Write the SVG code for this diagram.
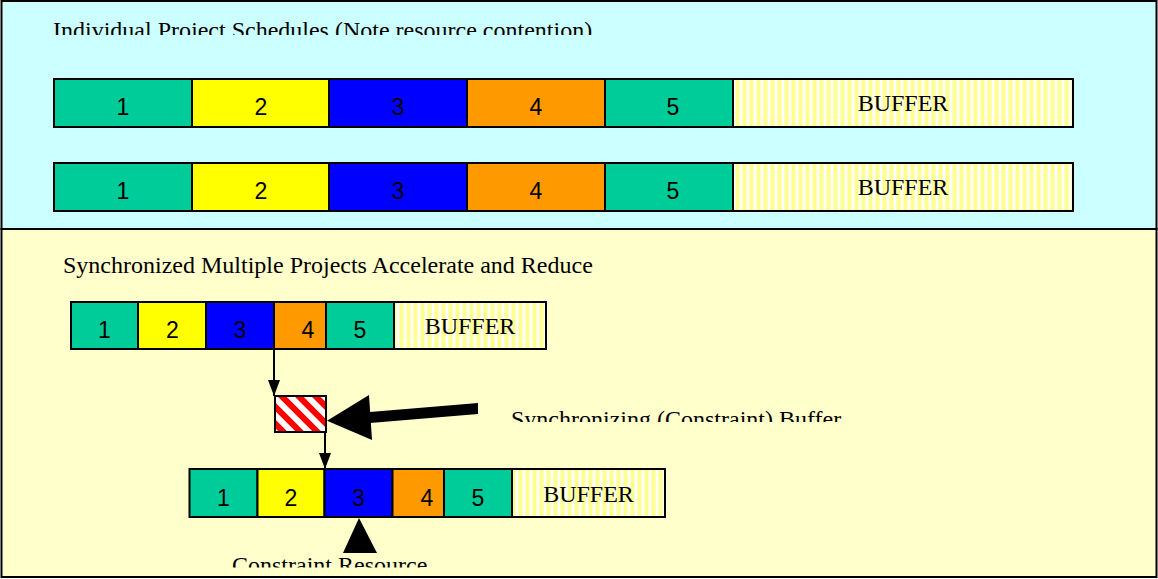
<svg xmlns="http://www.w3.org/2000/svg" width="1158" height="579" viewBox="0 0 1158 579">
<style>
.t{font-family:"Liberation Serif","Times New Roman",serif;font-size:24px;fill:#000}
.n{font-family:"Liberation Sans",Arial,sans-serif;font-size:23px;fill:#000;text-anchor:middle}
.b{font-family:"Liberation Serif","Times New Roman",serif;font-size:24px;fill:#000;text-anchor:middle}
.seg{stroke:#000;stroke-width:2}
.c1{fill:#00CC99}.c2{fill:#FFFF00}.c3{fill:#0000FF}.c4{fill:#FF9900}.c5{fill:#00CC99}
.buf{fill:url(#stripes)}
.conn{stroke:#000;stroke-width:2;fill:none}
</style>
<defs>
<pattern id="stripes" patternUnits="userSpaceOnUse" width="7" height="10">
<rect width="7" height="10" fill="#FFFFFF"/>
<rect x="0.5" width="4" height="10" fill="#FFFF8C"/>
</pattern>
<pattern id="hatch" patternUnits="userSpaceOnUse" width="12" height="12" patternTransform="rotate(-45)">
<rect width="12" height="12" fill="#FFFFFF"/>
<rect width="6" height="12" fill="#FF0000"/>
</pattern>
<marker id="ah" markerWidth="16" markerHeight="12" refX="16" refY="6" orient="auto" markerUnits="userSpaceOnUse" viewBox="0 0 16 12">
<path d="M0,0 L16,6 L0,12 Z" fill="#000"/>
</marker>
<clipPath id="clip1"><rect x="0" y="0" width="1158" height="35"/></clipPath>
<clipPath id="clip2"><rect x="0" y="380" width="1158" height="42"/></clipPath>
<clipPath id="clip3"><rect x="0" y="540" width="1158" height="27.5"/></clipPath>
</defs>

<g id="panel-top">
<rect x="1.5" y="1" width="1155" height="228" fill="#CCFFFF" stroke="#000" stroke-width="2"/>
<text class="t" x="53" y="37.5" clip-path="url(#clip1)">Individual Project Schedules (Note resource contention)</text>
</g>
<g id="panel-bottom">
<rect x="1.5" y="229" width="1155" height="348" fill="#FFFFCC" stroke="#000" stroke-width="2"/>
<text class="t" x="63" y="273">Synchronized Multiple Projects Accelerate and Reduce</text>
</g>

<g id="row1">
<rect class="seg c1" x="54" y="79" width="138" height="48"/>
<rect class="seg c2" x="192" y="79" width="137" height="48"/>
<rect class="seg c3" x="329" y="79" width="138" height="48"/>
<rect class="seg c4" x="467" y="79" width="138" height="48"/>
<rect class="seg c5" x="605" y="79" width="128" height="48"/>
<rect class="seg buf" x="733" y="79" width="340" height="48"/>
<text class="n" x="123" y="115">1</text>
<text class="n" x="261" y="115">2</text>
<text class="n" x="398" y="115">3</text>
<text class="n" x="536" y="115">4</text>
<text class="n" x="673" y="115">5</text>
<text class="b" x="903" y="111">BUFFER</text>
</g>

<g id="row2">
<rect class="seg c1" x="54" y="163" width="138" height="48"/>
<rect class="seg c2" x="192" y="163" width="137" height="48"/>
<rect class="seg c3" x="329" y="163" width="138" height="48"/>
<rect class="seg c4" x="467" y="163" width="138" height="48"/>
<rect class="seg c5" x="605" y="163" width="128" height="48"/>
<rect class="seg buf" x="733" y="163" width="340" height="48"/>
<text class="n" x="123" y="199">1</text>
<text class="n" x="261" y="199">2</text>
<text class="n" x="398" y="199">3</text>
<text class="n" x="536" y="199">4</text>
<text class="n" x="673" y="199">5</text>
<text class="b" x="903" y="195">BUFFER</text>
</g>

<g id="row3">
<rect class="seg c1" x="71" y="302" width="67" height="47"/>
<rect class="seg c2" x="138" y="302" width="68" height="47"/>
<rect class="seg c3" x="206" y="302" width="68" height="47"/>
<rect class="seg c4" x="274" y="302" width="52" height="47"/>
<rect class="seg c5" x="326" y="302" width="68" height="47"/>
<rect class="seg buf" x="394" y="302" width="152" height="47"/>
<text class="n" x="104.5" y="338">1</text>
<text class="n" x="172.5" y="338">2</text>
<text class="n" x="240" y="338">3</text>
<text class="n" x="308" y="338">4</text>
<text class="n" x="360" y="338">5</text>
<text class="b" x="470" y="334">BUFFER</text>
</g>

<g id="row4">
<rect class="seg c1" x="189.5" y="469" width="68" height="48"/>
<rect class="seg c2" x="257.5" y="469" width="67" height="48"/>
<rect class="seg c3" x="324.5" y="469" width="68" height="48"/>
<rect class="seg c4" x="392.5" y="469" width="51.5" height="48"/>
<rect class="seg c5" x="444" y="469" width="68" height="48"/>
<rect class="seg buf" x="512" y="469" width="153" height="48"/>
<text class="n" x="223.5" y="505.5">1</text>
<text class="n" x="291" y="505.5">2</text>
<text class="n" x="358.5" y="505.5">3</text>
<text class="n" x="427" y="505.5">4</text>
<text class="n" x="478" y="505.5">5</text>
<text class="b" x="588.5" y="502">BUFFER</text>
</g>

<g id="sync-buffer">
<rect x="275" y="396" width="51" height="36" fill="url(#hatch)" stroke="#000" stroke-width="2"/>
</g>

<g id="connectors">
<line class="conn" x1="274" y1="349" x2="274" y2="396" marker-end="url(#ah)"/>
<line class="conn" x1="325" y1="432" x2="325" y2="469" marker-end="url(#ah)"/>
<path d="M478,403 L478,414 L370,423 L370,412 Z" fill="#000"/>
<path d="M327,420.7 L369,395 L372,440 Z" fill="#000"/>
<path d="M359,518 L377,553 L343,553 Z" fill="#000"/>
</g>

<g id="labels">
<text class="t" x="511" y="427" clip-path="url(#clip2)">Synchronizing (Constraint) Buffer</text>
<text class="t" x="232" y="572.5" clip-path="url(#clip3)">Constraint Resource</text>
</g>
</svg>
